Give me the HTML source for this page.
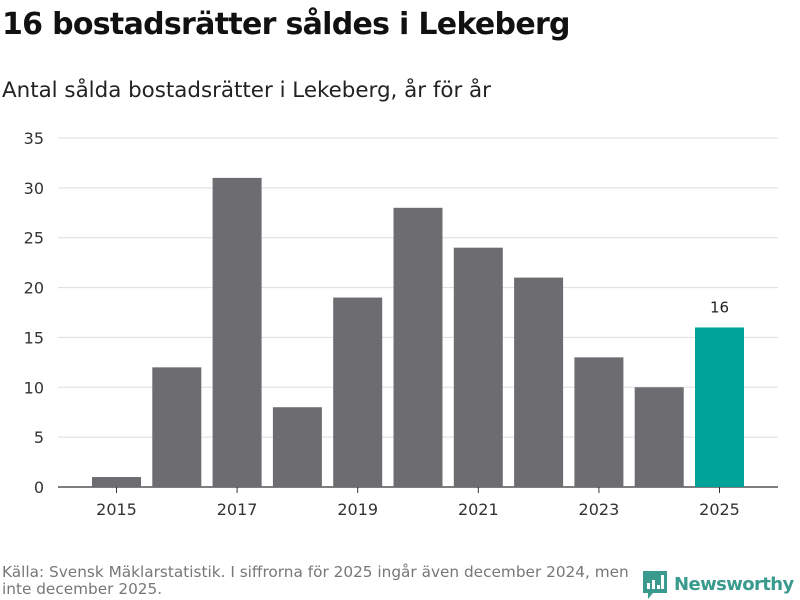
<!DOCTYPE html>
<html><head><meta charset="utf-8"><style>
body{margin:0;width:800px;height:600px;background:#fff;font-family:"DejaVu Sans","Liberation Sans",sans-serif;overflow:hidden;position:relative}
.t{position:absolute;left:2px;top:7px;font-size:30px;font-weight:bold;color:#111;letter-spacing:-0.7px}
.s{position:absolute;left:2px;top:78px;font-size:21.4px;color:#222}
.src{position:absolute;left:2px;top:564px;font-size:15.3px;color:#777;line-height:17px}
.logo{position:absolute;left:643px;top:569px;display:flex;align-items:center;gap:7px;color:#3a9a8e;font-size:18px;font-weight:bold;letter-spacing:-0.6px}
</style></head><body>
<div class="t">16 bostadsrätter såldes i Lekeberg</div>
<div class="s">Antal sålda bostadsrätter i Lekeberg, år för år</div>
<svg id="c" width="800" height="600" style="position:absolute;left:0;top:0"></svg>
<div class="src">Källa: Svensk Mäklarstatistik. I siffrorna för 2025 ingår även december 2024, men<br>inte december 2025.</div>
<div class="logo"><svg width="24" height="30" viewBox="0 0 24 30"><path d="M0 2h24v22H10l-5 6v-6H0z" fill="#3a9a8e"/><rect x="4" y="14" width="3" height="6" fill="#fff"/><rect x="9" y="11" width="3" height="9" fill="#fff"/><rect x="14" y="16" width="3" height="4" fill="#fff"/><rect x="18" y="6" width="3" height="14" fill="#fff"/></svg><span>Newsworthy</span></div>
<script>
const years=[2015,2016,2017,2018,2019,2020,2021,2022,2023,2024,2025];
const values=[1,12,31,8,19,28,24,21,13,10,16];
const yTicks=[0,5,10,15,20,25,30,35];
const xLabels=[2015,2017,2019,2021,2023,2025];
const svg=document.getElementById('c');const NS='http://www.w3.org/2000/svg';
const y0=487,yTop=138,yMax=35;
const y=v=>y0-(v/yMax)*(y0-yTop);
const band=60.3,x0=86.35,bw=49;
const x=i=>x0+band*i+band/2;
function mk(t,a,txt){const e=document.createElementNS(NS,t);for(const k in a)e.setAttribute(k,a[k]);if(txt!=null)e.textContent=txt;svg.appendChild(e);return e;}
yTicks.forEach(v=>{
const g=mk('line',{x1:58,x2:778,y1:y(v),y2:y(v),stroke:v?'#ddd':'#333','stroke-width':v?1:1.2});


const t=mk('text',{x:44,y:y(v)+6,'text-anchor':'end','font-size':16,fill:'#333'},v);


});
values.forEach((v,i)=>{
const last=i===values.length-1;
const r=mk('rect',{x:x(i)-bw/2,y:y(v),width:bw,height:y0-y(v),fill:last?'#00a398':'#6d6c71'});


if(last){const l=mk('text',{x:x(i),y:y(v)-15,'text-anchor':'middle','font-size':15,fill:'#222'},v);

}
});
xLabels.forEach(yr=>{const i=years.indexOf(yr);
mk('line',{x1:x(i),x2:x(i),y1:y0,y2:y0+6,stroke:'#333'});
const t=mk('text',{x:x(i),y:515,'text-anchor':'middle','font-size':16,fill:'#333'},yr);


});
</script>
</body></html>
